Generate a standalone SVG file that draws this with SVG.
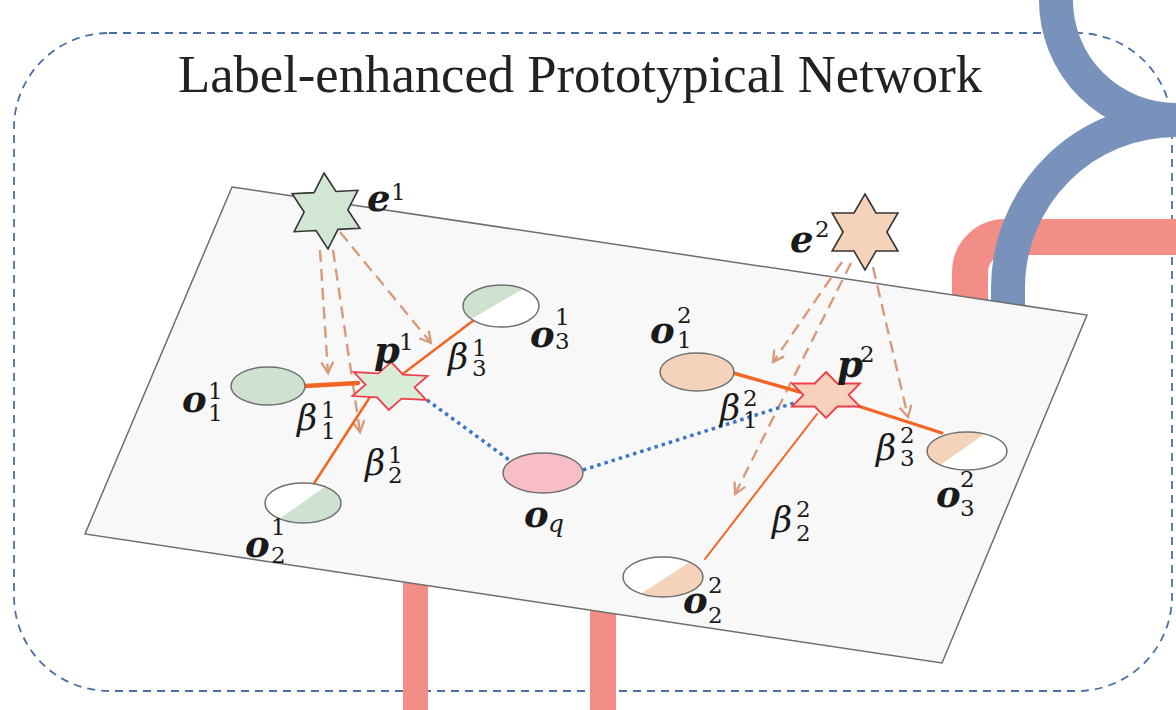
<svg xmlns="http://www.w3.org/2000/svg" width="1176" height="710" viewBox="0 0 1176 710">
<style>
.title{font-family:"Liberation Serif","Times New Roman",serif;font-size:52px;fill:#222}
.m{font-family:"DejaVu Serif","Liberation Serif",serif;font-size:37px;font-weight:bold;font-style:italic;fill:#1a1a1a}
.b{font-family:"DejaVu Serif","Liberation Serif",serif;font-size:35px;font-style:italic;fill:#1a1a1a}
.s{font-family:"DejaVu Serif","Liberation Serif",serif;font-size:23px;fill:#1a1a1a}
.si{font-family:"DejaVu Serif","Liberation Serif",serif;font-size:25px;font-style:italic;fill:#1a1a1a}
.ell{stroke:#707070;stroke-width:1.5}
.star{stroke:#333;stroke-width:1.6}
.pstar{stroke:#ef3e4a;stroke-width:1.8}
.or{stroke:#f26522;fill:none;stroke-linecap:round}
.dot{stroke:#3d78c8;stroke-width:3.5;stroke-dasharray:3.5 4;fill:none}
.tan{stroke:#d79b79;stroke-width:2.4;stroke-dasharray:12 7;fill:none;marker-end:url(#v)}
.green{fill:#cfe2d0}
.peach{fill:#f4d3ba}
</style>
<defs>
<marker id="v" markerUnits="userSpaceOnUse" markerWidth="16" markerHeight="16" refX="12" refY="7" orient="auto">
<path d="M1,1 L12,7 L1,13" fill="none" stroke="#d79b79" stroke-width="2.3"/>
</marker>
<clipPath id="c21"><ellipse cx="303" cy="503" rx="38" ry="20"/></clipPath>
<clipPath id="c31"><ellipse cx="501" cy="306" rx="38" ry="21"/></clipPath>
<clipPath id="c22"><ellipse cx="663" cy="577" rx="40" ry="20"/></clipPath>
<clipPath id="c32"><ellipse cx="967" cy="451" rx="40" ry="19"/></clipPath>
</defs>

<rect x="0" y="0" width="1176" height="710" fill="#ffffff"/>

<g id="frame">
<rect x="14" y="33" width="1158" height="658" rx="95" ry="95" fill="none" stroke="#4a6fa5" stroke-width="1.8" stroke-dasharray="8 6"/>
</g>

<g id="pipes">
<rect x="403" y="560" width="25" height="160" fill="#f28e86"/>
<rect x="590" y="560" width="26" height="160" fill="#f28e86"/>
<path d="M1190,237 L1005,237 A35,35 0 0 0 970,272 L970,330" fill="none" stroke="#f28e86" stroke-width="36"/>
<path d="M1056,-10 L1056,0 A120,120 0 0 0 1176,120 M1190,120 L1176,120 A168,168 0 0 0 1008,288 L1008,330" fill="none" stroke="#7892bc" stroke-width="34"/>
</g>

<text class="title" x="178" y="92" textLength="804" lengthAdjust="spacingAndGlyphs">Label-enhanced Prototypical Network</text>

<g id="plane">
<polygon points="232,187 1087,315 942,663 85,534" fill="#f8f8f8" stroke="#6e6e6e" stroke-width="1.5"/>
</g>

<g id="connectors">
<path class="tan" d="M320,250 L328,373"/>
<path class="tan" d="M333,250 L360,432"/>
<path class="tan" d="M340,232 L431,343"/>
<path class="tan" d="M842,262 L773,362"/>
<path class="tan" d="M851,263 L735,494"/>
<path class="tan" d="M873,267 L908,417"/>
<path class="or" stroke-width="4.5" d="M305,386 L358,383"/>
<path class="or" stroke-width="2.5" d="M400,376 L474,320"/>
<path class="or" stroke-width="2.5" d="M370,397 L313,485"/>
<path class="or" stroke-width="3.5" d="M733,373 L800,392"/>
<path class="or" stroke-width="3" d="M855,405 L942,433"/>
<path class="or" stroke-width="2" d="M817,414 L705,559"/>
<path class="dot" d="M427,400 L512,462"/>
<path class="dot" d="M583,470 L797,402"/>
</g>

<g id="node-e1">
<polygon class="star" fill="#d2e6d4" transform="translate(326,211) rotate(-3)" points="0,-38 11,-19 32.9,-19 21.9,0 32.9,19 11,19 0,38 -11,19 -32.9,19 -21.9,0 -32.9,-19 -11,-19"/>
<text class="m" x="367" y="211">e</text><text class="s" x="391" y="200">1</text>
</g>

<g id="node-e2">
<polygon class="star" fill="#f4d3ba" transform="translate(865,232)" points="0,-38 11,-19 32.9,-19 21.9,0 32.9,19 11,19 0,38 -11,19 -32.9,19 -21.9,0 -32.9,-19 -11,-19"/>
<text class="m" x="790" y="252">e</text><text class="s" x="815" y="237">2</text>
</g>

<g id="node-p1">
<polygon class="pstar" fill="#d8ecd8" transform="translate(390,386) rotate(3)" points="0,-24 12.3,-12 37,-12 24.5,0 37,12 12.3,12 0,24 -12.3,12 -37,12 -24.5,0 -37,-12 -12.3,-12"/>
<text class="m" x="374" y="363">p</text><text class="s" x="399" y="350">1</text>
</g>

<g id="node-p2">
<polygon class="pstar" fill="#f6d2bd" transform="translate(826,395)" points="0,-23 11.3,-11.5 34,-11.5 22.6,0 34,11.5 11.3,11.5 0,23 -11.3,11.5 -34,11.5 -22.6,0 -34,-11.5 -11.3,-11.5"/>
<text class="m" x="837" y="377">p</text><text class="s" x="860" y="362">2</text>
</g>

<g id="node-o11">
<ellipse class="ell green" cx="268" cy="386" rx="37" ry="19"/>
<text class="m" x="182" y="412">o</text><text class="s" x="208" y="399">1</text><text class="s" x="208" y="421">1</text>
</g>

<g id="node-o21">
<ellipse cx="303" cy="503" rx="38" ry="20" fill="#ffffff"/>
<polygon class="green" clip-path="url(#c21)" points="241,546 364,459 400,560 241,560"/>
<ellipse class="ell" cx="303" cy="503" rx="38" ry="20" fill="none"/>
<text class="m" x="245" y="557">o</text><text class="s" x="271" y="535">1</text><text class="s" x="271" y="563">2</text>
</g>

<g id="node-o31">
<ellipse cx="501" cy="306" rx="38" ry="21" fill="#ffffff"/>
<polygon class="green" clip-path="url(#c31)" points="428,344 563,266 440,240 420,240 420,344"/>
<ellipse class="ell" cx="501" cy="306" rx="38" ry="21" fill="none"/>
<text class="m" x="530" y="347">o</text><text class="s" x="555" y="325">1</text><text class="s" x="555" y="349">3</text>
</g>

<g id="beta1">
<text class="b" x="297" y="430">β</text><text class="s" x="321" y="418">1</text><text class="s" x="321" y="439">1</text>
<text class="b" x="365" y="475">β</text><text class="s" x="388" y="463">1</text><text class="s" x="388" y="483">2</text>
<text class="b" x="448" y="369">β</text><text class="s" x="472" y="356">1</text><text class="s" x="472" y="376">3</text>
</g>

<g id="node-oq">
<ellipse class="ell" cx="543" cy="473" rx="40" ry="20" fill="#f7bec6"/>
<text class="m" x="524" y="527">o</text><text class="si" x="548" y="532">q</text>
</g>

<g id="node-o12">
<ellipse class="ell peach" cx="697" cy="372" rx="37" ry="19"/>
<text class="m" x="650" y="343">o</text><text class="s" x="677" y="323">2</text><text class="s" x="677" y="348">1</text>
</g>

<g id="node-o22">
<ellipse cx="663" cy="577" rx="40" ry="20" fill="#ffffff"/>
<polygon class="peach" clip-path="url(#c22)" points="594,624 738,531 740,640 594,640"/>
<ellipse class="ell" cx="663" cy="577" rx="40" ry="20" fill="none"/>
<text class="m" x="683" y="613">o</text><text class="s" x="708" y="593">2</text><text class="s" x="708" y="623">2</text>
</g>

<g id="node-o32">
<ellipse cx="967" cy="451" rx="40" ry="19" fill="#ffffff"/>
<polygon class="peach" clip-path="url(#c32)" points="894,497 1032,401 890,401"/>
<ellipse class="ell" cx="967" cy="451" rx="40" ry="19" fill="none"/>
<text class="m" x="936" y="507">o</text><text class="s" x="960" y="487">2</text><text class="s" x="960" y="516">3</text>
</g>

<g id="beta2">
<text class="b" x="720" y="420">β</text><text class="s" x="743" y="406">2</text><text class="s" x="743" y="428">1</text>
<text class="b" x="772" y="532">β</text><text class="s" x="796" y="517">2</text><text class="s" x="796" y="541">2</text>
<text class="b" x="876" y="460">β</text><text class="s" x="900" y="443">2</text><text class="s" x="900" y="466">3</text>
</g>
</svg>
